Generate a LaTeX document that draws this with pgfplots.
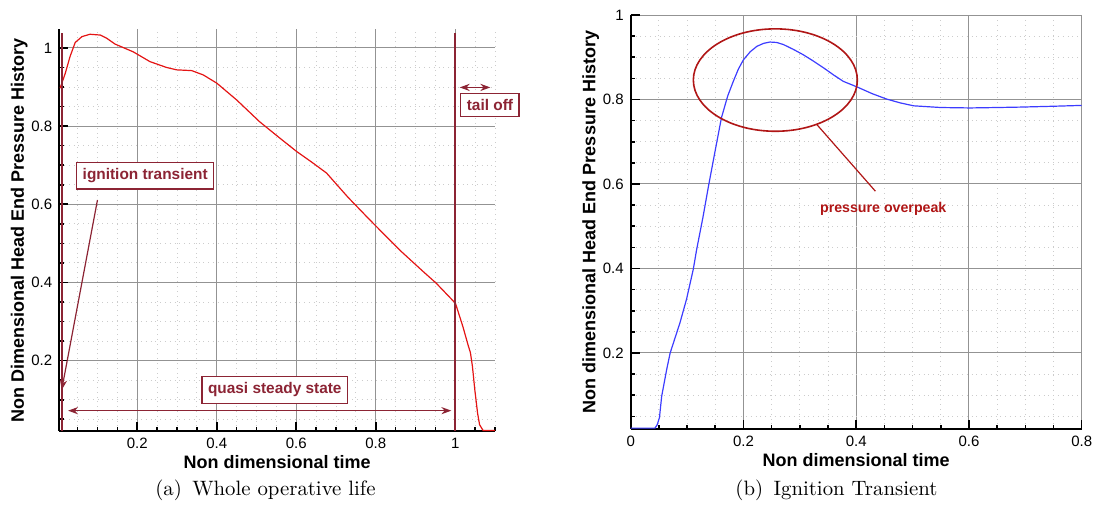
\documentclass[border=0pt]{standalone}
\usepackage{fontspec}
\setsansfont{Liberation Sans}
\usepackage{pgfplots}
\pgfplotsset{compat=1.18}
\usetikzlibrary{arrows.meta}

\definecolor{maroon}{RGB}{140,36,52}
\definecolor{peakred}{RGB}{176,22,22}
\definecolor{curvered}{RGB}{228,20,20}
\definecolor{curveblue}{RGB}{60,60,255}

% tecplot-like look shared by both panels
\pgfplotsset{tecstyle/.style={
  scale only axis,
  axis x line*=bottom, axis y line*=left,
  axis line style={black, line width=1pt},
  tick align=inside,
  major tick length=4.5pt, minor tick length=2.2pt,
  every tick/.style={black, line width=0.8pt},
  grid=both,
  major grid style={gray!85, line width=0.5pt},
  minor grid style={gray!40, dotted, line width=0.45pt},
  /pgf/number format/assume math mode=true,
  ticklabel style={font=\sffamily\fontsize{7.5}{9}\selectfont},
  label style={font=\sffamily\bfseries\fontsize{9}{11}\selectfont},
  xlabel shift=-3.5pt, ylabel shift=-5pt,
  clip=false,
}}

\tikzset{annot/.style={draw=maroon, fill=white, text=maroon, line width=0.6pt,
  font=\sffamily\bfseries\fontsize{7.7}{9}\selectfont, inner xsep=3pt, inner ysep=3pt},
  tip/.tip={Stealth[length=5pt,width=3.6pt]}}

\begin{document}
\begin{tikzpicture}
\useasboundingbox (0,0) rectangle (548.5pt,253pt);

% (a) whole operative life
\begin{axis}[tecstyle,
  at={(29.65pt,37.5pt)}, anchor=south west,
  width=217.9pt, height=200.9pt,
  xmin=0.004, xmax=1.1, ymin=0.02, ymax=1.048,
  xtick={0.2,0.4,0.6,0.8,1}, ytick={0.2,0.4,0.6,0.8,1},
  minor xtick={0.05,0.1,0.15,0.25,0.3,0.35,0.45,0.5,0.55,0.65,0.7,0.75,0.85,0.9,0.95,1.05,1.1},
  minor ytick={0.05,0.1,0.15,0.25,0.3,0.35,0.45,0.5,0.55,0.65,0.7,0.75,0.85,0.9,0.95},
  xlabel={Non dimensional time},
  ylabel={Non Dimensional Head End Pressure History},
]
\addplot[curvered, line width=0.6pt] coordinates {
  (0.006,0.897) (0.019,0.935) (0.031,0.978) (0.044,1.014) (0.061,1.029)
  (0.081,1.035) (0.107,1.033) (0.123,1.025) (0.144,1.010) (0.190,0.990)
  (0.232,0.965) (0.274,0.950) (0.299,0.944) (0.337,0.942) (0.366,0.931)
  (0.400,0.910) (0.450,0.867) (0.508,0.811) (0.559,0.769) (0.601,0.735)
  (0.640,0.707) (0.676,0.680) (0.730,0.618) (0.785,0.560) (0.860,0.483)
  (0.919,0.428) (0.952,0.398) (1.000,0.347) (1.003,0.338) (1.019,0.287)
  (1.032,0.240) (1.038,0.220) (1.043,0.185) (1.049,0.125) (1.056,0.065)
  (1.061,0.036) (1.070,0.021) (1.100,0.021)
};
\draw[maroon, line width=1pt] (axis cs:0.012,0.02) -- (axis cs:0.012,1.039);
\draw[maroon, line width=1pt] (axis cs:1,0.02) -- (axis cs:1,1.039);
\node[annot] at (axis cs:0.22,0.673) {ignition transient};
\draw[maroon, line width=0.6pt, -{tip}]
  (axis cs:0.1,0.611) -- (axis cs:0.01,0.125);
\node[annot] at (axis cs:0.546,0.125) {quasi steady state};
\draw[maroon, line width=0.6pt, {tip}-{tip}]
  (axis cs:0.026,0.072) -- (axis cs:0.99,0.072);
\node[annot] at (axis cs:1.087,0.854) {tail off};
\draw[maroon, line width=0.6pt, {tip}-{tip}]
  (axis cs:1.011,0.899) -- (axis cs:1.088,0.899);
\end{axis}

% (b) ignition transient
\begin{axis}[tecstyle,
  at={(315.35pt,38.5pt)}, anchor=south west,
  width=225.5pt, height=207pt,
  xmin=0, xmax=0.8, ymin=0.02, ymax=1,
  xtick={0,0.2,0.4,0.6,0.8}, ytick={0.2,0.4,0.6,0.8,1},
  minor xtick={0.05,0.1,0.15,0.25,0.3,0.35,0.45,0.5,0.55,0.65,0.7,0.75},
  minor ytick={0.05,0.1,0.15,0.25,0.3,0.35,0.45,0.5,0.55,0.65,0.7,0.75,0.85,0.9,0.95},
  xlabel={Non dimensional time},
  ylabel={Non dimensional Head End Pressure History},
]
\addplot[curveblue, line width=0.6pt] coordinates {
  (0,0.022) (0.043,0.022) (0.047,0.030) (0.051,0.047) (0.055,0.098)
  (0.064,0.162) (0.070,0.200) (0.0875,0.272) (0.099,0.327) (0.111,0.398)
  (0.117,0.445) (0.128,0.520) (0.138,0.595) (0.150,0.680) (0.161,0.757)
  (0.172,0.808) (0.182,0.843) (0.191,0.872) (0.200,0.894) (0.212,0.913)
  (0.224,0.926) (0.236,0.933) (0.247,0.936) (0.259,0.935) (0.271,0.930)
  (0.288,0.919) (0.306,0.906) (0.324,0.891) (0.342,0.875) (0.360,0.858)
  (0.377,0.843) (0.401,0.830) (0.428,0.814) (0.454,0.801) (0.478,0.792)
  (0.502,0.785) (0.550,0.781) (0.602,0.780) (0.650,0.781) (0.691,0.782)
  (0.750,0.784) (0.800,0.786)
};
\draw[peakred, line width=0.8pt] (axis cs:0.2566,0.846) ellipse [x radius=41pt, y radius=25.6pt];
\draw[peakred, line width=0.6pt] (axis cs:0.33,0.741) -- (axis cs:0.434,0.583);
\node[text=peakred, font=\sffamily\bfseries\fontsize{7.1}{8}\selectfont]
  at (axis cs:0.448,0.542) {pressure overpeak};
\end{axis}

\node[font=\fontsize{10.4}{12}\selectfont] at (132.7pt,8pt) {(a)\hspace{0.5em}Whole operative life};
\node[font=\fontsize{10.4}{12}\selectfont] at (418.2pt,8pt) {(b)\hspace{0.5em}Ignition Transient};
\end{tikzpicture}
\end{document}
